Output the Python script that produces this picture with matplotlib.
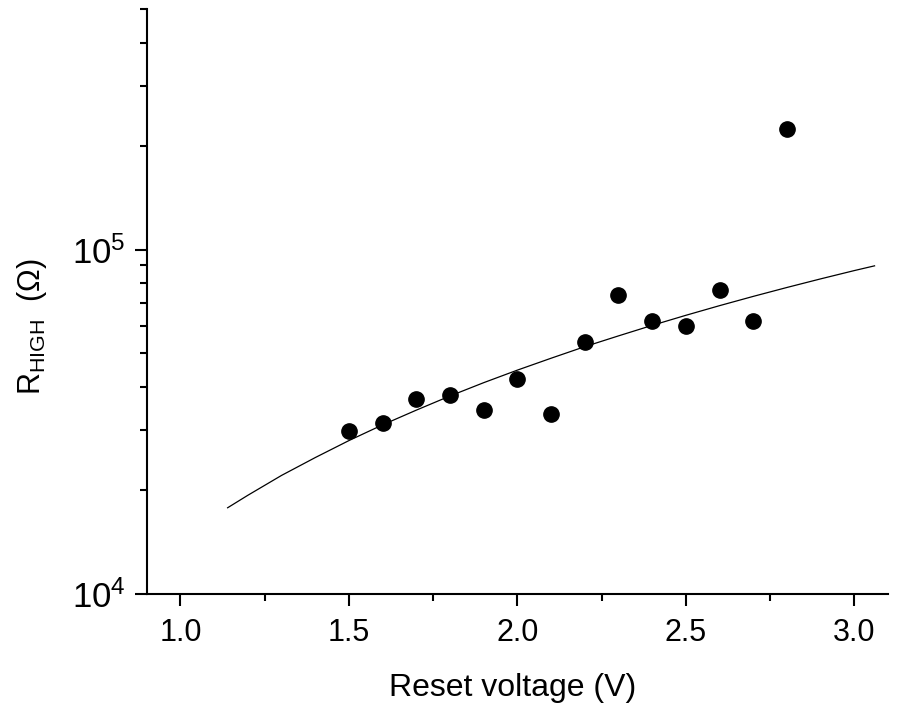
import matplotlib
matplotlib.use('Agg')
from matplotlib import pyplot as plt
from matplotlib.ticker import MultipleLocator, LogLocator, NullFormatter, FixedFormatter, FixedLocator, FormatStrFormatter

# Dane
voltage = [1.5, 1.6, 1.7, 1.8, 1.9, 2.0, 2.1, 2.2, 2.3, 2.4, 2.5, 2.6, 2.7, 2.8]
r_high = [29700, 31300, 36800, 37800, 34200, 42100, 33400, 54000, 73800, 62200, 60000, 76200, 62200, 224600]

fit_voltage = [1.14, 1.2, 1.3, 1.4, 1.5, 1.6, 1.7, 1.8, 1.9, 2.0, 2.1, 2.2, 2.3,
               2.4, 2.5, 2.6, 2.7, 2.8, 2.9, 3.0, 3.06]
fit_r = [17800, 19350, 22100, 24900, 27900, 31000, 34200, 37600, 41100, 44700, 48400,
         52300, 56200, 60300, 64500, 68800, 73200, 77700, 82300, 87000, 89800]

y_ticks = [1e4, 1e5]
y_tick_labels = ['$10^4$', '$10^5$']

plt.rcParams['font.family'] = ['Liberation Sans', 'DejaVu Sans']
plt.rcParams['mathtext.fontset'] = 'custom'
plt.rcParams['mathtext.rm'] = 'Liberation Sans'
plt.rcParams['mathtext.it'] = 'Liberation Sans:italic'
plt.rcParams['mathtext.default'] = 'regular'

fig = plt.figure(figsize=(8.97, 7.04), dpi=100)
ax = fig.add_axes([0.1636, 0.1563, 0.8264, 0.8307])

ax.plot(fit_voltage, fit_r, color='black', linewidth=0.9)
ax.plot(voltage, r_high, 'o', color='black', markersize=11)

ax.set_yscale('log')
ax.set_xlim(0.9, 3.1)
ax.set_ylim(1e4, 5e5)

ax.xaxis.set_major_locator(MultipleLocator(0.5))
ax.xaxis.set_minor_locator(MultipleLocator(0.25))
ax.xaxis.set_major_formatter(FormatStrFormatter('%.1f'))

ax.yaxis.set_major_locator(FixedLocator(y_ticks))
ax.yaxis.set_major_formatter(FixedFormatter(y_tick_labels))
ax.yaxis.set_minor_locator(LogLocator(base=10, subs=range(2, 10)))
ax.yaxis.set_minor_formatter(NullFormatter())

for side in ['top', 'right']:
    ax.spines[side].set_visible(False)
for side in ['left', 'bottom']:
    ax.spines[side].set_linewidth(1.5)

ax.tick_params(which='major', direction='out', length=8.5, width=1.5)
ax.tick_params(which='minor', direction='out', length=4.8, width=1.5)
ax.tick_params(axis='x', which='major', labelsize=22, pad=9)
ax.tick_params(axis='y', which='major', labelsize=25, pad=6.5)

ax.set_xlabel('Reset voltage (V)', fontsize=23)
ax.set_ylabel('R$_{HIGH}$  (\u03a9)', fontsize=22)
ax.xaxis.set_label_coords(0.494, -0.135)
ax.yaxis.set_label_coords(-0.1325, 0.458)

fig.savefig('out.png', dpi=100)
